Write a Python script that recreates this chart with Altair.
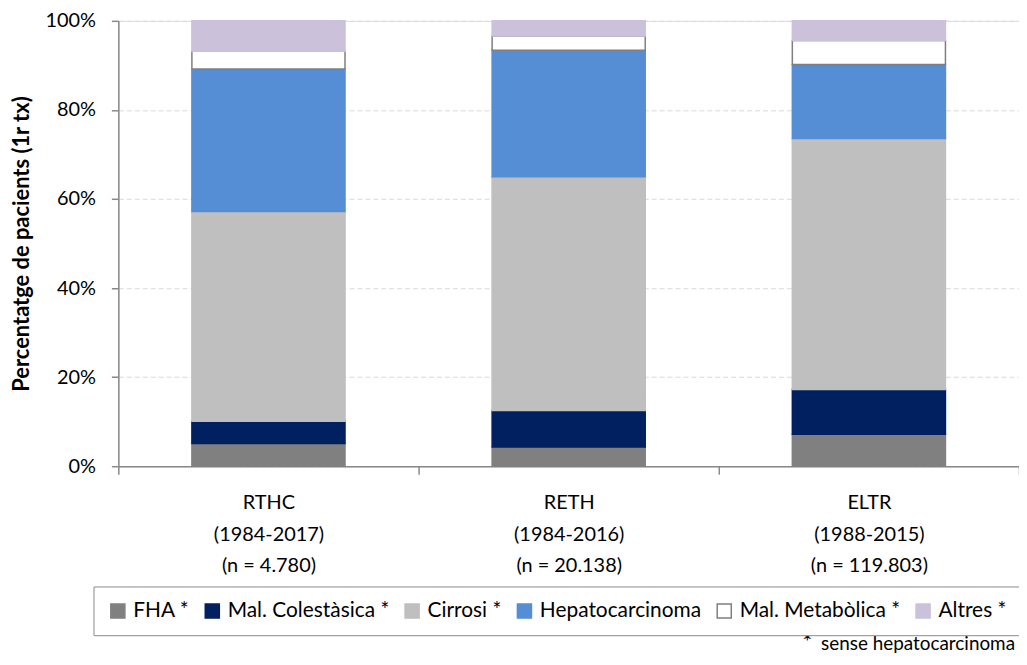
import altair as alt
import pandas as pd

# ---- data ----
sites = ["RTHC", "RETH", "ELTR"]
periods = ["(1984-2017)", "(1984-2016)", "(1988-2015)"]
counts = ["(n = 4.780)", "(n = 20.138)", "(n = 119.803)"]

groups = ["FHA *", "Mal. Colestàsica *", "Cirrosi *", "Hepatocarcinoma",
          "Mal. Metabòlica *", "Altres *"]
fills = ["#808080", "#002060", "#bfbfbf", "#558ed5", "#ffffff", "#ccc1da"]
strokes = ["#808080", "#002060", "#bfbfbf", "#558ed5", "#7f7f7f", "#ccc1da"]

fha = [5.1, 4.3, 7.2]
colestasica = [5.0, 8.2, 10.0]
cirrosi = [47.1, 52.5, 56.4]
hepatocarcinoma = [32.0, 28.4, 16.6]
metabolica = [4.0, 3.2, 5.4]
altres = [6.8, 3.4, 4.4]

footnote_star = ["*"]
footnote_text = ["sense hepatocarcinoma"]

# ---- table ----
series = [fha, colestasica, cirrosi, hepatocarcinoma, metabolica, altres]
labels = [f"{s}|{p}|{n}" for s, p, n in zip(sites, periods, counts)]
rows = []
for gi, (g, vals) in enumerate(zip(groups, series)):
    for lab, v in zip(labels, vals):
        rows.append({"label": lab, "group": g, "idx": gi, "value": v})
df = pd.DataFrame(rows)

FONT = "Lato"
AX = "#898989"

legend = alt.Legend(
    title=None,
    orient="none",
    legendX=-25,
    legendY=569,
    direction="horizontal",
    columns=6,
    padding=14,
    strokeColor=AX,
    fillColor="#ffffff",
    labelFont=FONT,
    labelFontSize=21,
    labelColor="#000000",
    labelLimit=400,
    symbolType="square",
    symbolSize=200,
    symbolStrokeWidth=1.5,
    labelOffset=5,
    columnPadding=12,
)

bars = alt.Chart(df).mark_bar(
    strokeWidth=1.5, width=alt.RelativeBandSize(0.51)
).encode(
    x=alt.X(
        "label:N",
        sort=labels,
        scale=alt.Scale(paddingInner=0, paddingOuter=0),
        axis=alt.Axis(
            title=None,
            labelAngle=0,
            labelExpr="split(datum.label, '|')",
            labelFont=FONT,
            labelFontSize=20,
            labelColor="#000000",
            labelLineHeight=31.5,
            labelPadding=19,
            tickBand="extent",
            tickSize=8,
            tickColor=AX,
            tickWidth=1.5,
            domainColor=AX,
            domainWidth=1.5,
            grid=False,
        ),
    ),
    y=alt.Y(
        "value:Q",
        stack="normalize",
        scale=alt.Scale(domain=[0, 1]),
        axis=alt.Axis(
            title="Percentatge de pacients (1r tx)",
            titleFont=FONT,
            titleFontSize=22,
            titleFontWeight="bold",
            titleColor="#000000",
            titlePadding=12,
            values=[0, 0.2, 0.4, 0.6, 0.8, 1.0],
            format=".0%",
            labelFont=FONT,
            labelFontSize=20,
            labelColor="#000000",
            labelPadding=16,
            tickSize=7,
            tickColor=AX,
            tickWidth=1.5,
            domainColor=AX,
            domainWidth=1.5,
            gridColor="#d9d9d9",
            gridDash=[5, 3],
            gridWidth=1,
        ),
    ),
    color=alt.Color("group:N", scale=alt.Scale(domain=groups, range=fills), legend=legend),
    stroke=alt.Stroke("group:N", scale=alt.Scale(domain=groups, range=strokes), legend=legend),
    order=alt.Order("idx:Q", sort="ascending"),
)

star = alt.Chart(pd.DataFrame({"t": footnote_star})).mark_text(
    align="right", baseline="alphabetic", font=FONT, fontSize=23, color="#000000"
).encode(x=alt.value(698), y=alt.value(633), text="t:N")

note = alt.Chart(pd.DataFrame({"t": footnote_text})).mark_text(
    align="right", baseline="alphabetic", font=FONT, fontSize=19, color="#000000"
).encode(x=alt.value(902), y=alt.value(633), text="t:N")

chart = alt.layer(bars, star, note).properties(
    width=906,
    height=448,
    autosize=alt.AutoSizeParams(type="none"),
    padding={"left": 111, "top": 11, "right": 0, "bottom": 190},
).configure_view(stroke=None).configure(background="#ffffff")

chart.save("out.html", embed_options={"renderer": "svg", "actions": False})
